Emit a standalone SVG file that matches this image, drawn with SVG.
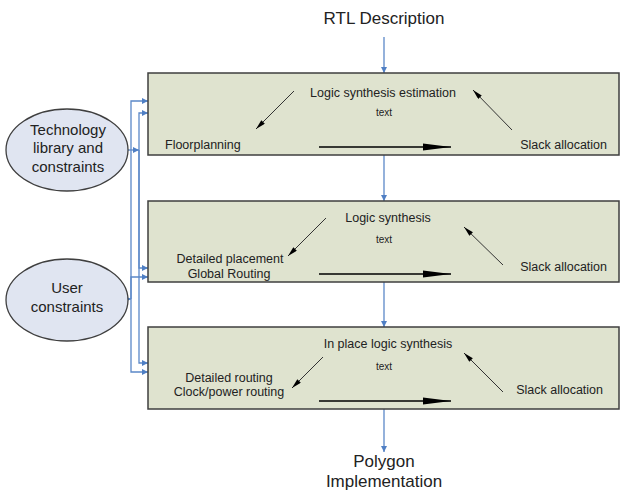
<svg xmlns="http://www.w3.org/2000/svg" width="626" height="492" viewBox="0 0 626 492">
<defs>
<marker id="blue" markerUnits="userSpaceOnUse" markerWidth="8" markerHeight="8" refX="6" refY="3" orient="auto"><path d="M0,0 L6,3 L0,6 Z" fill="#4f7fc4"/></marker>
<marker id="thin" markerUnits="userSpaceOnUse" markerWidth="12" markerHeight="8" refX="10" refY="2.5" orient="auto"><path d="M0,0 L10,2.5 L0,5 Z" fill="#000"/></marker>
<marker id="big" markerUnits="userSpaceOnUse" markerWidth="30" markerHeight="10" refX="28" refY="4" orient="auto"><path d="M0,0.5 L28,4 L0,7.5 Z" fill="#000"/></marker>
</defs>
<style>
.box{fill:#dfe3cf;stroke:#3f3f3f;stroke-width:1.5}
.ell{fill:#e0e5f1;stroke:#3f3f3f;stroke-width:1.3}
.t{font-family:"Liberation Sans",Arial,sans-serif;fill:#222;text-anchor:middle}
.s12{font-size:12.5px}
.s10{font-size:10px}
.big{font-size:17px}
.e15{font-size:15px}
.bl{fill:none;stroke:#5b88c8;stroke-width:1.3}
.dg{stroke:#333;stroke-width:1;marker-end:url(#thin)}
.hz{stroke:#000;stroke-width:1.5;marker-end:url(#big)}
</style>
<text class="t big" x="384" y="24">RTL Description</text>
<text class="t big" x="384" y="467">Polygon</text>
<text class="t big" x="384" y="487">Implementation</text>
<g id="connectors">
<path class="bl" d="M384,37 V73" marker-end="url(#blue)"/>
<path class="bl" d="M384,155 V201" marker-end="url(#blue)"/>
<path class="bl" d="M384,282 V327" marker-end="url(#blue)"/>
<path class="bl" d="M384,409 V452" marker-end="url(#blue)"/>
<path class="bl" d="M128,150 H139" marker-end="url(#blue)"/>
<path class="bl" d="M139,150 V113 H148" marker-end="url(#blue)"/>
<path class="bl" d="M139,150 V268 H148" marker-end="url(#blue)"/>
<path class="bl" d="M139,150 V363 H148" marker-end="url(#blue)"/>
<path class="bl" d="M128,299 H131" marker-end="url(#blue)"/>
<path class="bl" d="M131,299 V101 H148" marker-end="url(#blue)"/>
<path class="bl" d="M131,299 V277 H148" marker-end="url(#blue)"/>
<path class="bl" d="M131,299 V372 H148" marker-end="url(#blue)"/>
</g>
<g id="tech">
<ellipse class="ell" cx="67" cy="150" rx="61" ry="41"/>
<text class="t e15" x="68" y="135">Technology</text>
<text class="t e15" x="68" y="153">library and</text>
<text class="t e15" x="68" y="172">constraints</text>
</g>
<g id="user">
<ellipse class="ell" cx="67" cy="300" rx="61" ry="41"/>
<text class="t e15" x="67" y="293">User</text>
<text class="t e15" x="67" y="312">constraints</text>
</g>
<g id="box1">
<rect class="box" x="148" y="73" width="471" height="82"/>
<text class="t s12" x="383" y="97">Logic synthesis estimation</text>
<text class="t s10" x="384" y="116">text</text>
<text class="t s12" x="165" y="149" style="text-anchor:start">Floorplanning</text>
<text class="t s12" x="607" y="149" style="text-anchor:end">Slack allocation</text>
<line class="hz" x1="319" y1="147" x2="451" y2="147"/>
<line class="dg" x1="294" y1="91" x2="256" y2="129"/>
<line class="dg" x1="512" y1="130" x2="473" y2="90"/>
</g>
<g id="box2">
<rect class="box" x="148" y="201" width="471" height="81"/>
<text class="t s12" x="388" y="222">Logic synthesis</text>
<text class="t s10" x="384" y="243">text</text>
<text class="t s12" x="230" y="263">Detailed placement</text>
<text class="t s12" x="229" y="278">Global Routing</text>
<text class="t s12" x="607" y="271" style="text-anchor:end">Slack allocation</text>
<line class="hz" x1="319" y1="274" x2="451" y2="274"/>
<line class="dg" x1="326" y1="218" x2="288" y2="256"/>
<line class="dg" x1="503" y1="265" x2="464" y2="227"/>
</g>
<g id="box3">
<rect class="box" x="148" y="327" width="471" height="82"/>
<text class="t s12" x="388" y="348">In place logic synthesis</text>
<text class="t s10" x="384" y="370">text</text>
<text class="t s12" x="229" y="382">Detailed routing</text>
<text class="t s12" x="229" y="396">Clock/power routing</text>
<text class="t s12" x="603" y="394" style="text-anchor:end">Slack allocation</text>
<line class="hz" x1="319" y1="401" x2="451" y2="401"/>
<line class="dg" x1="323" y1="357" x2="292" y2="388"/>
<line class="dg" x1="503" y1="392" x2="464" y2="353"/>
</g>
</svg>
